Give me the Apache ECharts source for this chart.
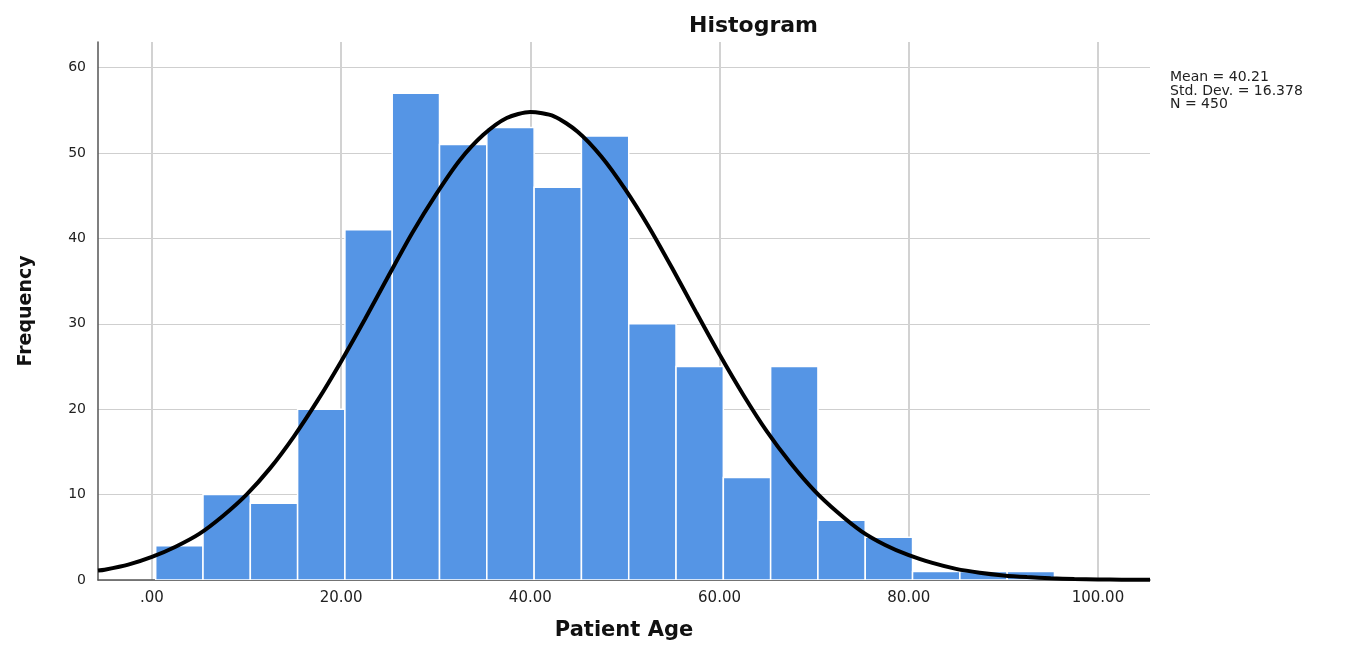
<!DOCTYPE html>
<html>
<head>
    <meta charset="utf-8">
    <title>Histogram</title>
    <script src="https://cdn.jsdelivr.net/npm/echarts@6/dist/echarts.min.js"></script>
    <style>
        html, body { margin: 0; padding: 0; background: #fff; }
        #chart { width: 1349px; height: 646px; }
    </style>
</head>
<body>
<div id="chart"></div>
<script type="text/javascript">
    // histogram bins (age, width 5) and their counts
    var binStart = [0.4, 5.4, 10.4, 15.4, 20.4, 25.4, 30.4, 35.4, 40.4, 45.4, 50.4, 55.4, 60.4, 65.4, 70.4, 75.4, 80.4, 85.4, 90.4];
    var binWidth = 5;
    var counts = [4, 10, 9, 20, 41, 57, 51, 53, 46, 52, 30, 25, 12, 25, 7, 5, 1, 1, 1];

    // normal curve
    var curveX = [-5.7, -5, -2.5, 0, 2.5, 5, 7.5, 10, 12.5, 15, 17.5, 20, 22.5, 25, 27.5, 30, 32.5, 35, 37.5, 40,
        42.5, 45, 47.5, 50, 52.5, 55, 57.5, 60, 62.5, 65, 67.5, 70, 72.5, 75, 77.5, 80, 82.5, 85, 87.5, 90,
        92.5, 95, 97.5, 100, 102.5, 105, 105.5];
    var curveY = [1.1, 1.2, 1.8, 2.7, 3.9, 5.4, 7.5, 10.0, 13.1, 16.8, 21.0, 25.6, 30.5, 35.6, 40.6, 45.1, 49.1, 52.1, 54.1, 54.8,
        54.3, 52.5, 49.6, 45.8, 41.4, 36.5, 31.4, 26.4, 21.7, 17.4, 13.7, 10.5, 7.9, 5.7, 4.1, 2.9, 2.0, 1.3, 0.85, 0.54,
        0.34, 0.2, 0.12, 0.07, 0.04, 0.02, 0.02];

    var xTicks = [0, 20, 40, 60, 80, 100];
    var yTicks = [0, 10, 20, 30, 40, 50, 60];

    var statsText = 'Mean = 40.21\nStd. Dev. = 16.378\nN = 450';

    var barData = [];
    for (var i = 0; i < binStart.length; i++) {
        barData.push([binStart[i], binStart[i] + binWidth, counts[i]]);
    }
    var curveData = [];
    for (var j = 0; j < curveX.length; j++) {
        curveData.push([curveX[j], curveY[j]]);
    }

    var myChart = echarts.init(document.getElementById('chart'));

    myChart.setOption({
        animation: false,
        textStyle: { fontFamily: 'DejaVu Sans' },
        title: [{
            text: 'Histogram',
            left: 684,
            top: 10,
            textStyle: { fontSize: 22, fontWeight: 'bold', color: '#111' }
        }, {
            text: statsText,
            left: 1165,
            top: 66,
            textStyle: { fontSize: 14, fontWeight: 'normal', color: '#222', lineHeight: 13.5 }
        }],
        grid: { left: 98, right: 199, top: 42, bottom: 64 },
        xAxis: {
            type: 'value',
            min: -5.7,
            max: 105.5,
            name: 'Patient Age',
            nameLocation: 'middle',
            nameGap: 40,
            nameTextStyle: { fontSize: 21, fontWeight: 'bold', color: '#111' },
            axisLine: { show: true, onZero: false, lineStyle: { color: '#555', width: 1.5 } },
            axisTick: { show: false, customValues: xTicks },
            axisLabel: {
                customValues: xTicks,
                fontSize: 15,
                color: '#222',
                margin: 11,
                formatter: function (v) {
                    return v === 0 ? '.00' : v.toFixed(2);
                }
            },
            splitLine: { show: true, lineStyle: { color: '#d2d2d2', width: 2 } }
        },
        yAxis: {
            type: 'value',
            min: 0,
            max: 63,
            name: 'Frequency',
            nameLocation: 'middle',
            nameGap: 62,
            nameTextStyle: { fontSize: 19, fontWeight: 'bold', color: '#111' },
            axisLine: { show: true, onZero: false, lineStyle: { color: '#555', width: 1.5 } },
            axisTick: { show: false, customValues: yTicks },
            axisLabel: { customValues: yTicks, fontSize: 14, color: '#222', margin: 12 },
            splitLine: { show: true, lineStyle: { color: '#cfcfcf', width: 1 } }
        },
        series: [{
            type: 'custom',
            name: 'Frequency',
            clip: true,
            z: 2,
            encode: { x: [0, 1], y: 2 },
            data: barData,
            renderItem: function (params, api) {
                var topLeft = api.coord([api.value(0), api.value(2)]);
                var bottomRight = api.coord([api.value(1), 0]);
                return {
                    type: 'rect',
                    shape: {
                        x: topLeft[0],
                        y: topLeft[1],
                        width: bottomRight[0] - topLeft[0],
                        height: bottomRight[1] - topLeft[1]
                    },
                    style: { fill: '#5595e5', stroke: '#ffffff', lineWidth: 1.5 }
                };
            }
        }, {
            type: 'line',
            name: 'Normal',
            z: 3,
            smooth: 0.25,
            symbol: 'none',
            clip: true,
            lineStyle: { color: '#000', width: 4 },
            data: curveData
        }]
    });
</script>
</body>
</html>
